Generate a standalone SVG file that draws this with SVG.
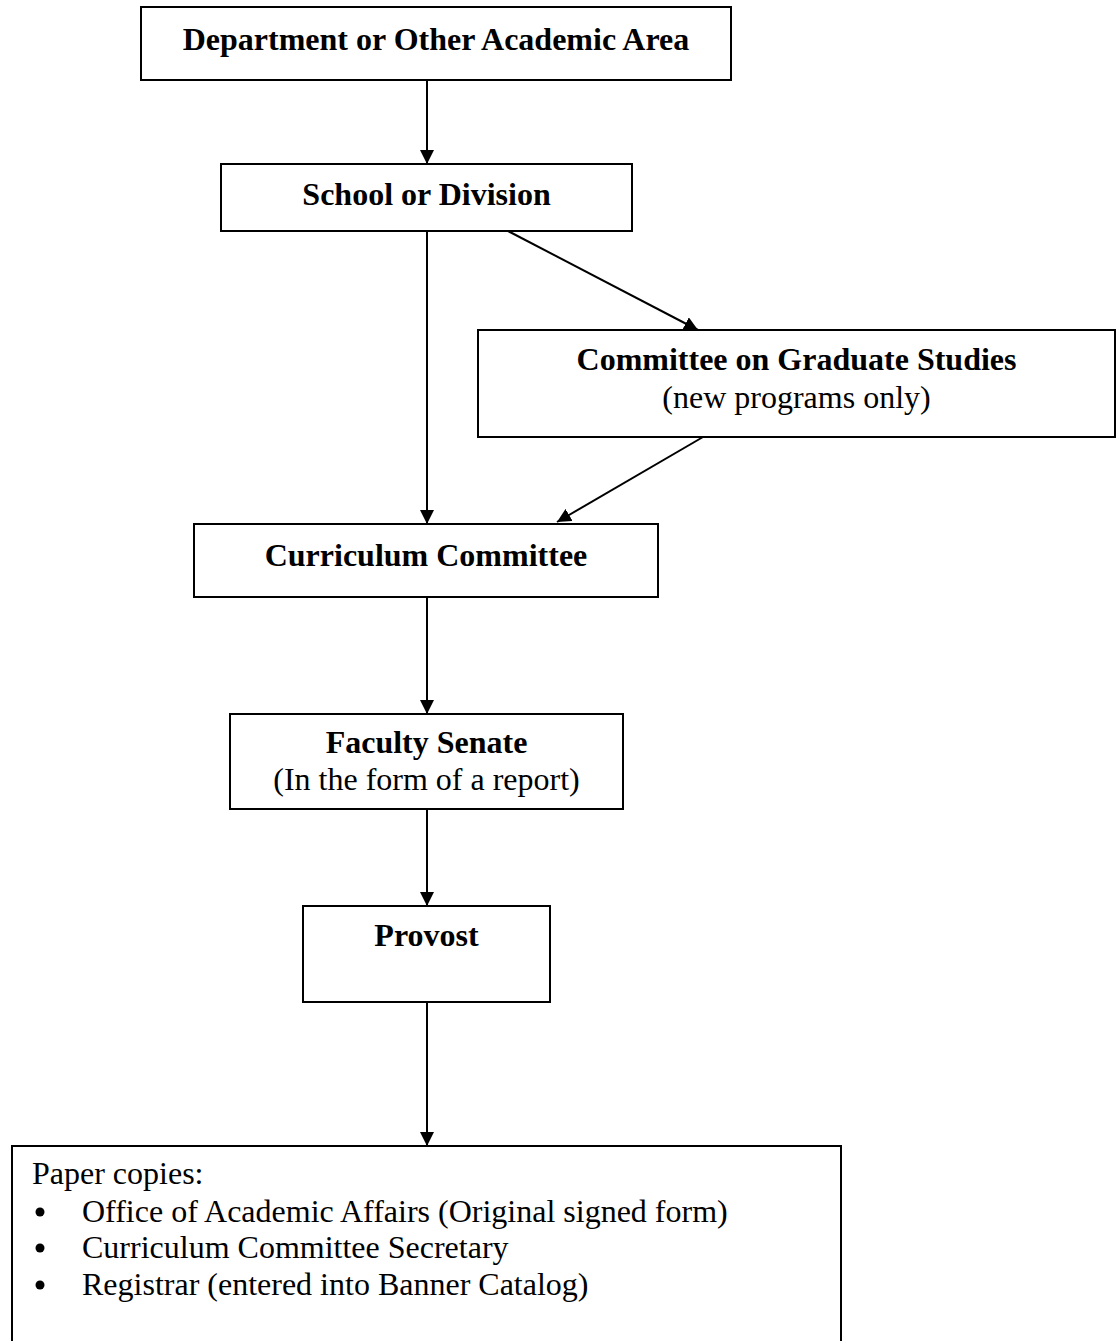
<svg xmlns="http://www.w3.org/2000/svg" width="1117" height="1341" viewBox="0 0 1117 1341">
<style>
.box{fill:#fff;stroke:#000;stroke-width:2}
.b{font-family:"Liberation Serif","Times New Roman",serif;font-size:32px;font-weight:bold;fill:#000;text-anchor:middle}
.r{font-family:"Liberation Serif","Times New Roman",serif;font-size:32px;fill:#000}
.rc{text-anchor:middle}
.conn{stroke:#000;stroke-width:2;fill:none;marker-end:url(#ah)}
</style>
<defs>
<marker id="ah" viewBox="0 0 14 14" refX="14" refY="7" markerWidth="14" markerHeight="14" markerUnits="userSpaceOnUse" orient="auto">
<path d="M0,0 L14,7 L0,14 Z" fill="#000"/>
</marker>
</defs>
<rect width="1117" height="1341" fill="#fff"/>
<g id="connectors">
<line class="conn" x1="427" y1="80" x2="427" y2="164"/>
<line class="conn" x1="427" y1="231" x2="427" y2="524"/>
<line class="conn" x1="508" y1="231" x2="698" y2="330"/>
<line class="conn" x1="703" y1="437" x2="557" y2="522"/>
<line class="conn" x1="427" y1="597" x2="427" y2="714"/>
<line class="conn" x1="427" y1="809" x2="427" y2="906"/>
<line class="conn" x1="427" y1="1002" x2="427" y2="1146"/>
</g>
<g id="dept">
<rect class="box" x="141" y="7" width="590" height="73"/>
<text class="b" x="436" y="50">Department or Other Academic Area</text>
</g>
<g id="school">
<rect class="box" x="221" y="164" width="411" height="67"/>
<text class="b" x="426.5" y="205">School or Division</text>
</g>
<g id="cgs">
<rect class="box" x="478" y="330" width="637" height="107"/>
<text class="b" x="796.5" y="370">Committee on Graduate Studies</text>
<text class="r rc" x="796.5" y="408">(new programs only)</text>
</g>
<g id="curriculum">
<rect class="box" x="194" y="524" width="464" height="73"/>
<text class="b" x="426" y="566">Curriculum Committee</text>
</g>
<g id="senate">
<rect class="box" x="230" y="714" width="393" height="95"/>
<text class="b" x="426.5" y="753">Faculty Senate</text>
<text class="r rc" x="426.5" y="790">(In the form of a report)</text>
</g>
<g id="provost">
<rect class="box" x="303" y="906" width="247" height="96"/>
<text class="b" x="426.5" y="946">Provost</text>
</g>
<g id="copies">
<rect class="box" x="12" y="1146" width="829" height="230"/>
<text class="r" x="32" y="1184">Paper copies:</text>
<circle cx="40" cy="1212" r="4.5" fill="#000"/>
<text class="r" x="82" y="1222">Office of Academic Affairs (Original signed form)</text>
<circle cx="40" cy="1248" r="4.5" fill="#000"/>
<text class="r" x="82" y="1258">Curriculum Committee Secretary</text>
<circle cx="40" cy="1285" r="4.5" fill="#000"/>
<text class="r" x="82" y="1295">Registrar (entered into Banner Catalog)</text>
</g>
</svg>
